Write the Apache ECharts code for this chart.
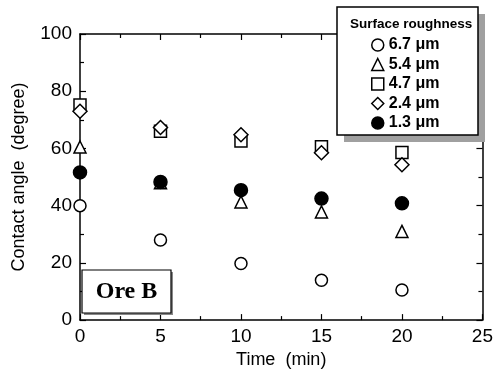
<!DOCTYPE html>
<html><head><meta charset="utf-8">
<script src="https://cdn.jsdelivr.net/npm/echarts@6/dist/echarts.min.js"></script>
<style>html,body{margin:0;padding:0;background:#fff}#c{width:496px;height:374px}</style>
</head><body><div id="c"></div>
<script>
const times = [0, 5, 10, 15, 20];
const seriesNames = ['6.7 \u03bcm', '5.4 \u03bcm', '4.7 \u03bcm', '2.4 \u03bcm', '1.3 \u03bcm'];
const r67 = [40.0, 28.0, 19.8, 13.9, 10.5];
const r54 = [60.5, 48.0, 41.3, 37.8, 31.0];
const r47 = [75.2, 66.0, 62.6, 60.6, 58.6];
const r24 = [73.0, 67.3, 64.8, 58.5, 54.3];
const r13 = [51.6, 48.3, 45.4, 42.5, 40.8];
const symbols = ['circle', 'triangle', 'rect', 'diamond', 'circle'];
const fills = ['#fff', '#fff', '#fff', '#fff', '#000'];
const values = [r67, r54, r47, r24, r13];
const sizes = [12, 12, 12, 14, 13];

const chart = echarts.init(document.getElementById('c'));
const font = 'Liberation Sans, Arial, sans-serif';
function axisCommon() {
  return {
    axisLine: {show: true, onZero: false, lineStyle: {color: '#000', width: 1.5}},
    axisTick: {show: true, inside: true, length: 6, lineStyle: {color: '#000', width: 1.2}},
    minorTick: {show: true, splitNumber: 2, length: 4, lineStyle: {color: '#000', width: 1.2}},
    splitLine: {show: false}
  };
}
chart.setOption({
  animation: false,
  grid: {left: 80, top: 34, right: 13, bottom: 52},
  xAxis: [
    Object.assign({type: 'value', min: 0, max: 25, interval: 5, position: 'bottom',
      name: 'Time  (min)', nameLocation: 'middle', nameGap: 30,
      nameTextStyle: {fontFamily: font, fontSize: 18, color: '#000'},
      axisLabel: {fontFamily: font, fontSize: 19, color: '#000', margin: 7}}, axisCommon()),
    Object.assign({type: 'value', min: 0, max: 25, interval: 5, position: 'top',
      axisLabel: {show: false}}, axisCommon())
  ],
  yAxis: [
    Object.assign({type: 'value', min: 0, max: 100, interval: 20, position: 'left',
      name: 'Contact angle  (degree)', nameLocation: 'middle', nameGap: 52,
      nameTextStyle: {fontFamily: font, fontSize: 18, color: '#000'},
      axisLabel: {fontFamily: font, fontSize: 19, color: '#000', margin: 8}}, axisCommon()),
    Object.assign({type: 'value', min: 0, max: 100, interval: 20, position: 'right',
      axisLabel: {show: false}}, axisCommon())
  ],
  title: {text: 'Surface roughness', left: 345, top: 12, z: 30,
    textStyle: {fontFamily: font, fontSize: 13.5, fontWeight: 'bold', color: '#000'}},
  legend: {
    orient: 'vertical', left: 366, top: 32, itemGap: 3.5, itemWidth: 12, itemHeight: 12, z: 30,
    textStyle: {fontFamily: font, fontSize: 16, fontWeight: 'bold', color: '#000', lineHeight: 16},
    data: seriesNames.map((n, i) => ({name: n, icon: symbols[i],
      itemStyle: {color: fills[i], borderColor: '#000', borderWidth: 1.5}}))
  },
  graphic: [
    {type: 'rect', shape: {x: 344, y: 14, width: 141, height: 128}, style: {fill: '#a0a0a0'}, z: 20},
    {type: 'rect', shape: {x: 337, y: 7, width: 141, height: 128}, style: {fill: '#fff', stroke: '#000', lineWidth: 1.5}, z: 21},
    {type: 'rect', shape: {x: 84, y: 272, width: 89, height: 43}, style: {fill: '#888'}, z: 10},
    {type: 'rect', shape: {x: 82, y: 270, width: 89, height: 43}, style: {fill: '#fff', stroke: '#000', lineWidth: 1.2}, z: 11},
    {type: 'text', x: 126.5, y: 292, z: 12, style: {text: 'Ore B', font: 'bold 24px "Liberation Serif", "Times New Roman", serif', fill: '#000', textAlign: 'center', textVerticalAlign: 'middle'}}
  ],
  series: values.map((v, i) => ({
    name: seriesNames[i], type: 'scatter', symbol: symbols[i], symbolSize: sizes[i],
    itemStyle: {color: fills[i], borderColor: '#000', borderWidth: 1.5, opacity: 1},
    data: times.map((t, j) => [t, v[j]]), z: 3 + i
  }))
});
</script></body></html>
